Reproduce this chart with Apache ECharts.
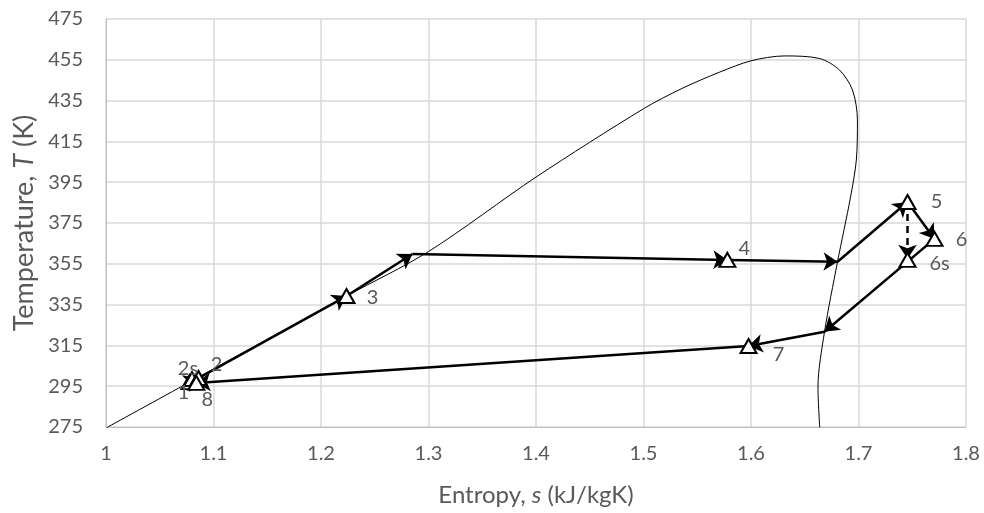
<!DOCTYPE html>
<html>
<head>
<meta charset="utf-8">
<script src="https://cdn.jsdelivr.net/npm/echarts@6/dist/echarts.min.js"></script>
<style>
  html, body { margin: 0; padding: 0; background: #fff; }
  #ts_chart { width: 984px; height: 513px; }
</style>
</head>
<body>
<div id="ts_chart"></div>
<script>
// saturation dome
const domeS = [1.0, 1.0777, 1.2237, 1.3, 1.4, 1.5, 1.536, 1.571, 1.6, 1.631, 1.664, 1.6823, 1.6944, 1.699, 1.698, 1.6926, 1.6805, 1.6684, 1.6623, 1.664];
const domeT = [274.5, 297.0, 339.2, 361.0, 397.5, 431.0, 441.0, 449.0, 454.5, 456.9, 455.6, 450.0, 440.2, 425.5, 405.9, 387.7, 356.0, 321.7, 294.6, 274.0];

// labelled state points
const stateNames = ["1", "2s", "2", "8", "3", "4", "5", "6", "6s", "7"];
const stateS = [1.0777, 1.080, 1.086, 1.084, 1.2237, 1.578, 1.7456, 1.7707, 1.7456, 1.5977];
const stateT = [297.0, 298.5, 299.0, 296.6, 339.2, 356.9, 385.3, 367.2, 356.9, 314.7];

// cycle path: 1 -> 2 -> 3 -> sat.liq -> 4 -> sat.vap -> 5 -> 6 -> sat.vap -> 7 -> 8
const pathS = [1.0777, 1.086, 1.2237, 1.285, 1.578, 1.6805, 1.7456, 1.7707, 1.6684, 1.5977, 1.084];
const pathT = [297.0, 299.0, 339.2, 359.8, 356.9, 356.0, 385.3, 367.2, 321.7, 314.7, 296.6];

// isentropic expansion 5 -> 6s (dashed)
const dashS = [1.7456, 1.7456];
const dashT = [385.3, 357.5];

const xTicks = { min: 1, max: 1.8, step: 0.1 };
const yTicks = { min: 275, max: 475, step: 20 };

// label offsets for the point names (pixels)
const labelOffset = {
  "1": [-6, 10], "2s": [-4, -11], "2": [18, -13], "8": [11, 17],
  "3": [26, 2], "4": [17, -11], "5": [29, 0], "6": [27, 1], "6s": [32, 4], "7": [30, 9]
};

const grey = "#595959";
const fontFam = "Lato, 'Open Sans', sans-serif";

let segs = [];
for (let i = 0; i < pathS.length - 1; i++) {
  segs.push({ coords: [[pathS[i], pathT[i]], [pathS[i + 1], pathT[i + 1]]] });
}
segs.push({
  coords: [[dashS[0], dashT[0]], [dashS[1], dashT[1]]],
  lineStyle: { type: [7, 5] }
});

const option = {
  animation: false,
  backgroundColor: "#fff",
  textStyle: { fontFamily: fontFam },
  grid: { left: 106, right: 18, top: 19, bottom: 86 },
  xAxis: {
    type: "value",
    min: xTicks.min,
    max: xTicks.max,
    interval: xTicks.step,
    name: "Entropy, {i|s} (kJ/kgK)",
    nameLocation: "middle",
    nameGap: 56,
    nameTextStyle: {
      color: grey, fontSize: 24, fontFamily: fontFam,
      rich: { i: { fontStyle: "italic", color: grey, fontSize: 24, fontFamily: fontFam } }
    },
    axisLine: { show: true, lineStyle: { color: "#bfbfbf", width: 1 } },
    axisTick: { show: false },
    axisLabel: {
      color: grey, fontSize: 20, margin: 17,
      formatter: v => String(+v.toFixed(1))
    },
    splitLine: { show: true, lineStyle: { color: "#d9d9d9", width: 1.5 } }
  },
  yAxis: {
    type: "value",
    min: yTicks.min,
    max: yTicks.max,
    interval: yTicks.step,
    name: "Temperature, {i|T} (K)",
    nameLocation: "middle",
    nameGap: 66,
    nameTextStyle: {
      color: grey, fontSize: 27, fontFamily: fontFam,
      rich: { i: { fontStyle: "italic", color: grey, fontSize: 27, fontFamily: fontFam } }
    },
    axisLine: { show: true, lineStyle: { color: "#bfbfbf", width: 1 } },
    axisTick: { show: false },
    axisLabel: { color: grey, fontSize: 20, margin: 23 },
    splitLine: { show: true, lineStyle: { color: "#d9d9d9", width: 1.5 } }
  },
  series: [
    {
      name: "dome",
      type: "line",
      smooth: 0.3,
      showSymbol: false,
      z: 2,
      lineStyle: { color: "#000", width: 1 },
      data: domeS.map((s, i) => [s, domeT[i]])
    },
    {
      name: "cycle",
      type: "lines",
      coordinateSystem: "cartesian2d",
      z: 3,
      symbol: ["none", "arrow"],
      symbolSize: 14,
      lineStyle: { color: "#000", width: 2.5, opacity: 1, curveness: 0 },
      data: segs
    },
    {
      name: "states",
      type: "scatter",
      z: 4,
      symbol: "triangle",
      symbolSize: [16, 14],
      itemStyle: { color: "#fff", borderColor: "#000", borderWidth: 2, opacity: 1 },
      data: stateNames.map((n, i) => ({
        name: n,
        value: [stateS[i], stateT[i]],
        label: { offset: labelOffset[n] }
      })),
      label: {
        show: true,
        position: "inside",
        formatter: p => p.name,
        color: grey,
        fontSize: 20,
        fontFamily: fontFam
      }
    }
  ]
};

const tsChart = echarts.init(document.getElementById("ts_chart"));
tsChart.setOption(option);
window.addEventListener("resize", function () {
  tsChart.resize();
});
</script>
</body>
</html>
